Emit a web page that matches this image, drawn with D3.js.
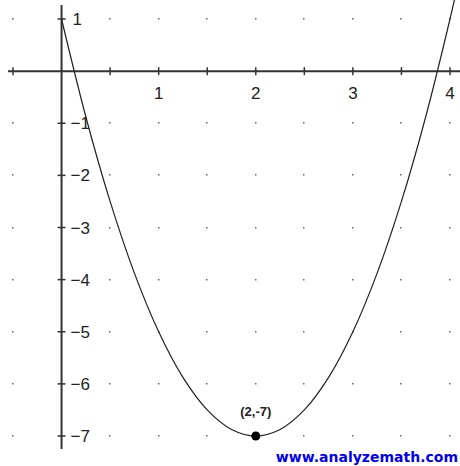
<!doctype html>
<html>
<head>
	<meta charset='utf-8'/>
	<script src="https://d3js.org/d3.v7.min.js"></script>
	<style>
		body { margin: 0; background: #fff; }
		svg { display: block; }
	</style>
</head>
<body>
	<div id="chart"></div>
	<script>
		var width = 460,
			height = 466;

		// curve points
		var curveX = [0, 0.25, 0.5, 0.75, 1, 1.25, 1.5, 1.75, 2, 2.25, 2.5, 2.75, 3, 3.25, 3.5, 3.75, 4, 4.1];
		var curveY = [1, -0.875, -2.5, -3.875, -5, -5.875, -6.5, -6.875, -7, -6.875, -6.5, -5.875, -5, -3.875, -2.5, -0.875, 1, 1.82];

		var xTicks = [-0.5, 0.5, 1, 1.5, 2, 2.5, 3, 3.5, 4];
		var xLabels = [1, 2, 3, 4];
		var yTicks = [1, -1, -2, -3, -4, -5, -6, -7];
		var gridX = [-0.5, 0.5, 1, 1.5, 2, 2.5, 3, 3.5, 4];
		var gridY = [1, -1, -2, -3, -4, -5, -6, -7];

		var vertex = {x: 2, y: -7, label: "(2,-7)"};
		var credit = "www.analyzemath.com";

		var x = d3.scaleLinear().domain([-0.5, 4]).range([13, 450]);
		var y = d3.scaleLinear().domain([-7, 1]).range([436, 19]);

		var svg = d3.select("#chart").append("svg")
			.attr("width", width)
			.attr("height", height);

		// grid dots
		var cells = [];
		gridX.forEach(function(gx) { gridY.forEach(function(gy) { cells.push([gx, gy]); }); });
		svg.append("g").selectAll("rect")
			.data(cells)
			.enter().append("rect")
			.attr("x", function(d) { return Math.round(x(d[0])) - 1; })
			.attr("y", function(d) { return Math.round(y(d[1])) - 1; })
			.attr("width", 1.5)
			.attr("height", 1.5)
			.attr("fill", "#666");

		// axes
		var ax = svg.append("g").attr("stroke", "#333").attr("stroke-width", 2);
		ax.append("line")
			.attr("x1", 8).attr("x2", width)
			.attr("y1", y(0)).attr("y2", y(0));
		ax.append("line")
			.attr("x1", x(0)).attr("x2", x(0))
			.attr("y1", 5).attr("y2", 449);

		svg.append("g").selectAll("line")
			.data(xTicks)
			.enter().append("line")
			.attr("x1", function(d) { return x(d); })
			.attr("x2", function(d) { return x(d); })
			.attr("y1", y(0) - 4).attr("y2", y(0) + 4)
			.attr("stroke", "#333").attr("stroke-width", 1.5);

		svg.append("g").selectAll("line")
			.data(yTicks)
			.enter().append("line")
			.attr("x1", x(0) - 4).attr("x2", x(0) + 4)
			.attr("y1", function(d) { return y(d); })
			.attr("y2", function(d) { return y(d); })
			.attr("stroke", "#333").attr("stroke-width", 1.5);

		// tick labels
		svg.append("g").selectAll("text")
			.data(xLabels)
			.enter().append("text")
			.attr("x", function(d) { return x(d); })
			.attr("y", y(0) + 28)
			.attr("text-anchor", "middle")
			.style("font", "17px 'Liberation Sans', sans-serif")
			.attr("fill", "#222")
			.text(function(d) { return d; });

		svg.append("g").selectAll("text")
			.data(yTicks)
			.enter().append("text")
			.attr("x", function(d) { return d < 0 ? x(0) + 9 : x(0) + 11; })
			.attr("y", function(d) { return y(d) + 6; })
			.style("font", "17px 'Liberation Sans', sans-serif")
			.attr("fill", "#222")
			.text(function(d) { return d < 0 ? "\u2212" + Math.abs(d) : d; });

		// parabola
		var line = d3.line()
			.x(function(d, i) { return x(curveX[i]); })
			.y(function(d) { return y(d); })
			.curve(d3.curveCatmullRom);

		svg.append("path")
			.datum(curveY)
			.attr("d", line)
			.attr("fill", "none")
			.attr("stroke", "#222")
			.attr("stroke-width", 1.2);

		// vertex
		svg.append("circle")
			.attr("cx", x(vertex.x))
			.attr("cy", y(vertex.y))
			.attr("r", 4.5)
			.attr("fill", "#000");

		svg.append("text")
			.attr("x", x(vertex.x))
			.attr("y", y(vertex.y) - 20)
			.attr("text-anchor", "middle")
			.style("font", "bold 13px 'Liberation Sans', sans-serif")
			.attr("fill", "#222")
			.text(vertex.label);

		svg.append("text")
			.attr("x", 458)
			.attr("y", 462)
			.attr("text-anchor", "end")
			.style("font", "bold 14px 'DejaVu Sans', sans-serif")
			.attr("fill", "#0000f0")
			.text(credit);
	</script>
</body>
</html>
